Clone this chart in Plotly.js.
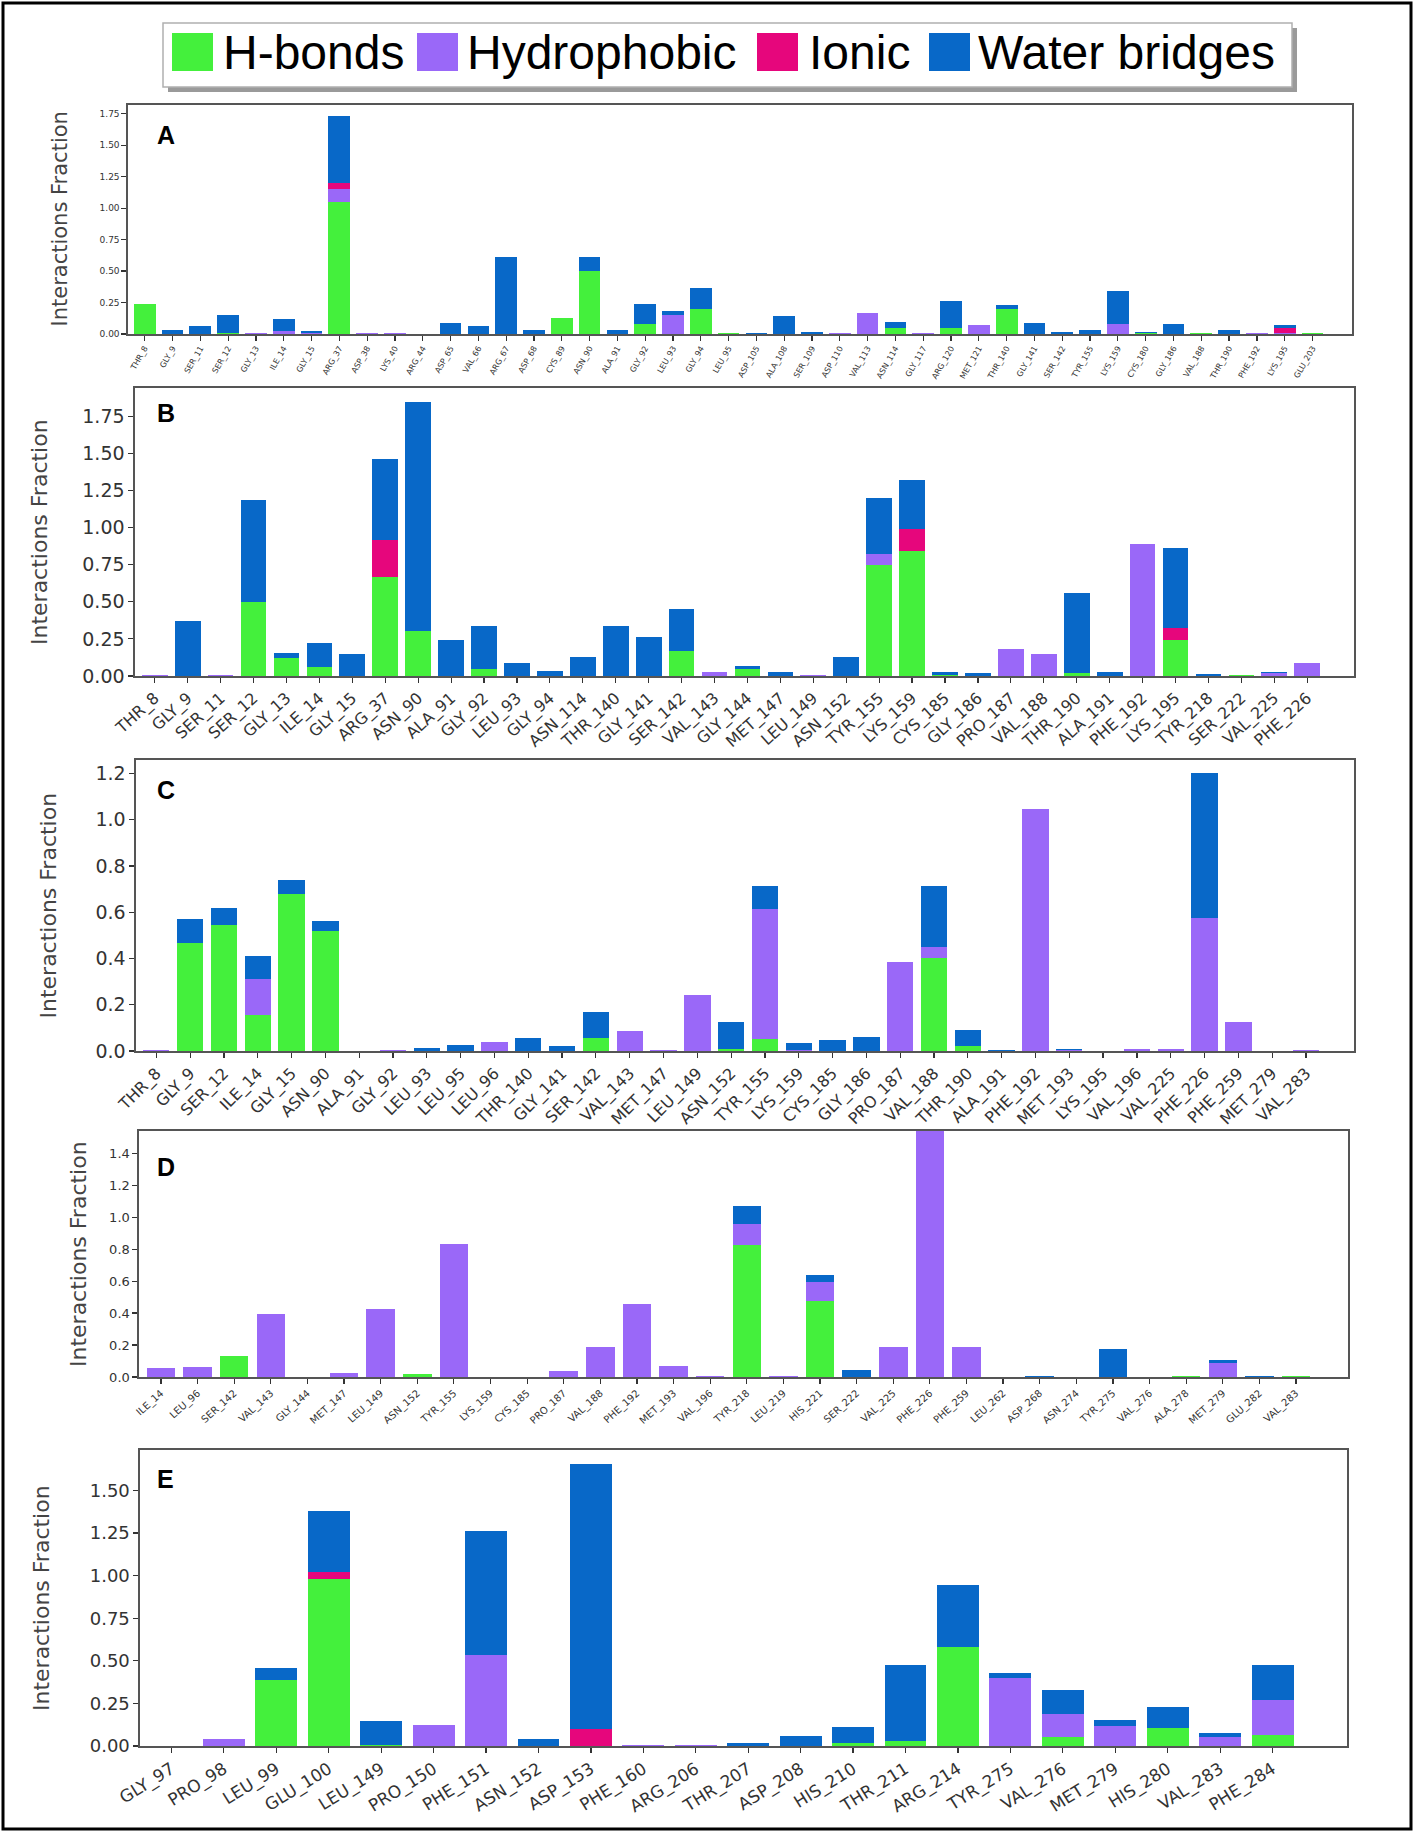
<!DOCTYPE html>
<html><head><meta charset="utf-8">
<script src="https://cdn.plot.ly/plotly-3.0.1.min.js"></script>
<style>body{margin:0;background:#fff}#chart{width:1417px;height:1831px}</style>
</head><body><div id="chart"></div>
<script>
// ---------------- DATA ----------------
const seriesNames = ['H-bonds', 'Hydrophobic', 'Ionic', 'Water bridges'];
const seriesColors = ['#44f03c', '#9a68f8', '#e6067c', '#0868c8'];
const panelLetters = ['A', 'B', 'C', 'D', 'E'];
const yTitle = 'Interactions Fraction';

const labelsA = ['THR_8','GLY_9','SER_11','SER_12','GLY_13','ILE_14','GLY_15','ARG_37','ASP_38','LYS_40','ARG_44','ASP_65','VAL_66','ARG_67','ASP_68','CYS_89','ASN_90','ALA_91','GLY_92','LEU_93','GLY_94','LEU_95','ASP_105','ALA_108','SER_109','ASP_110','VAL_113','ASN_114','GLY_117','ARG_120','MET_121','THR_140','GLY_141','SER_142','TYR_155','LYS_159','CYS_180','GLY_186','VAL_188','THR_190','PHE_192','LYS_195','GLU_203'];
const hbondA = [0.24,0,0,0.01,0,0,0,1.05,0,0,0,0,0,0,0,0.13,0.50,0,0.08,0,0.20,0.01,0,0,0,0,0,0.05,0,0.05,0,0.20,0,0,0,0,0.01,0,0.005,0,0,0,0.005];
const hydroA = [0,0,0,0,0.005,0.02,0.01,0.10,0.01,0.005,0,0,0,0,0,0,0,0,0,0.15,0,0,0,0,0,0.01,0.17,0,0.01,0,0.075,0,0,0,0,0.08,0,0,0,0,0.01,0.01,0];
const ionicA = [0,0,0,0,0,0,0,0.05,0,0,0,0,0,0,0,0,0,0,0,0,0,0,0,0,0,0,0,0,0,0,0,0,0,0,0,0,0,0,0,0,0,0.04,0];
const waterA = [0,0.03,0.065,0.145,0.005,0.10,0.01,0.53,0,0,0,0.09,0.065,0.61,0.035,0,0.11,0.035,0.16,0.035,0.165,0,0.01,0.14,0.015,0,0,0.045,0,0.215,0,0.03,0.085,0.015,0.035,0.26,0.005,0.08,0,0.03,0,0.025,0];

const labelsB = ['THR_8','GLY_9','SER_11','SER_12','GLY_13','ILE_14','GLY_15','ARG_37','ASN_90','ALA_91','GLY_92','LEU_93','GLY_94','ASN_114','THR_140','GLY_141','SER_142','VAL_143','GLY_144','MET_147','LEU_149','ASN_152','TYR_155','LYS_159','CYS_185','GLY_186','PRO_187','VAL_188','THR_190','ALA_191','PHE_192','LYS_195','TYR_218','SER_222','VAL_225','PHE_226'];
const hbondB = [0,0,0,0.50,0.12,0.06,0,0.665,0.30,0,0.05,0,0,0,0,0,0.17,0,0.045,0,0,0,0.75,0.84,0.01,0,0,0,0.02,0,0,0.24,0,0.005,0,0];
const hydroB = [0.005,0,0.005,0,0,0,0,0,0,0,0,0,0,0,0,0,0,0.025,0,0,0.005,0,0.07,0,0,0,0.18,0.15,0,0,0.89,0,0,0,0.02,0.09];
const ionicB = [0,0,0,0,0,0,0,0.25,0,0,0,0,0,0,0,0,0,0,0,0,0,0,0,0.15,0,0,0,0,0,0,0,0.08,0,0,0,0];
const waterB = [0,0.37,0,0.685,0.035,0.165,0.145,0.55,1.545,0.24,0.29,0.09,0.035,0.125,0.34,0.26,0.28,0,0.025,0.03,0,0.13,0.38,0.33,0.015,0.02,0,0,0.54,0.025,0,0.54,0.015,0,0.005,0];

const labelsC = ['THR_8','GLY_9','SER_12','ILE_14','GLY_15','ASN_90','ALA_91','GLY_92','LEU_93','LEU_95','LEU_96','THR_140','GLY_141','SER_142','VAL_143','MET_147','LEU_149','ASN_152','TYR_155','LYS_159','CYS_185','GLY_186','PRO_187','VAL_188','THR_190','ALA_191','PHE_192','MET_193','LYS_195','VAL_196','VAL_225','PHE_226','PHE_259','MET_279','VAL_283'];
const hbondC = [0,0.465,0.545,0.155,0.68,0.52,0,0,0,0,0,0,0,0.055,0,0,0,0.01,0.05,0,0,0,0,0.40,0.02,0,0,0,0,0,0,0,0,0,0];
const hydroC = [0.005,0,0,0.155,0,0,0,0.005,0,0,0.038,0,0,0,0.088,0.005,0.24,0,0.565,0.005,0,0,0.385,0.05,0,0,1.045,0.005,0,0.01,0.01,0.575,0.125,0,0.005];
const ionicC = [0,0,0,0,0,0,0,0,0,0,0,0,0,0,0,0,0,0,0,0,0,0,0,0,0,0,0,0,0,0,0,0,0,0,0];
const waterC = [0,0.105,0.075,0.10,0.06,0.04,0,0,0.015,0.027,0,0.058,0.02,0.115,0,0,0,0.115,0.10,0.03,0.046,0.06,0,0.265,0.07,0.005,0,0.005,0,0,0,0.625,0,0,0];

const labelsD = ['ILE_14','LEU_96','SER_142','VAL_143','GLY_144','MET_147','LEU_149','ASN_152','TYR_155','LYS_159','CYS_185','PRO_187','VAL_188','PHE_192','MET_193','VAL_196','TYR_218','LEU_219','HIS_221','SER_222','VAL_225','PHE_226','PHE_259','LEU_262','ASP_268','ASN_274','TYR_275','VAL_276','ALA_278','MET_279','GLU_282','VAL_283'];
const hbondD = [0,0,0.13,0,0,0,0,0.02,0,0,0,0,0,0,0,0,0.825,0,0.475,0,0,0,0,0,0,0,0,0,0.005,0,0,0.005];
const hydroD = [0.056,0.06,0,0.397,0,0.027,0.425,0,0.83,0,0,0.035,0.185,0.46,0.07,0.005,0.135,0.005,0.12,0,0.188,1.62,0.19,0,0,0,0,0,0,0.09,0,0];
const ionicD = [0,0,0,0,0,0,0,0,0,0,0,0,0,0,0,0,0,0,0,0,0,0,0,0,0,0,0,0,0,0,0,0];
const waterD = [0,0,0,0,0,0,0,0,0,0,0,0,0,0,0,0,0.11,0,0.045,0.044,0,0,0,0,0.008,0,0.178,0,0,0.015,0.005,0];

const labelsE = ['GLY_97','PRO_98','LEU_99','GLU_100','LEU_149','PRO_150','PHE_151','ASN_152','ASP_153','PHE_160','ARG_206','THR_207','ASP_208','HIS_210','THR_211','ARG_214','TYR_275','VAL_276','MET_279','HIS_280','VAL_283','PHE_284'];
const hbondE = [0,0,0.39,0.98,0.005,0,0,0,0,0,0,0,0,0.02,0.03,0.582,0,0.055,0,0.108,0,0.063];
const hydroE = [0,0.043,0,0,0,0.122,0.533,0,0,0.005,0.005,0,0,0,0,0,0.40,0.132,0.118,0,0.05,0.209];
const ionicE = [0,0,0,0.04,0,0,0,0,0.10,0,0,0,0,0,0,0,0,0,0,0,0,0];
const waterE = [0,0,0.065,0.36,0.143,0,0.73,0.04,1.555,0,0,0.02,0.059,0.094,0.444,0.36,0.03,0.143,0.034,0.119,0.029,0.202];

// ---------------- LAYOUT CONFIG ----------------
const W = 1417, H = 1831;
const X = px => px / W;
const Y = py => 1 - py / H;

const panels = [
  {labels: labelsA, vals: [hbondA, hydroA, ionicA, waterA], box: [128, 105, 1352, 334], ymax: 1.82, dtick: 0.25, fmt: '.2f',
   xfont: 8, xangle: -60, yfont: 9, titleX: 59, titleSize: 21, letterY: 119, bw: 0.78},
  {labels: labelsB, vals: [hbondB, hydroB, ionicB, waterB], box: [135, 388, 1354, 676], ymax: 1.94, dtick: 0.25, fmt: '.2f',
   xfont: 16, xangle: -42, yfont: 19, titleX: 39, titleSize: 22, letterY: 397, bw: 0.78},
  {labels: labelsC, vals: [hbondC, hydroC, ionicC, waterC], box: [136, 760, 1354, 1051], ymax: 1.258, dtick: 0.2, fmt: '.1f',
   xfont: 16, xangle: -45, yfont: 19, titleX: 48, titleSize: 22, letterY: 774, bw: 0.78},
  {labels: labelsD, vals: [hbondD, hydroD, ionicD, waterD], box: [139, 1131, 1348, 1377], ymax: 1.54, dtick: 0.2, fmt: '.1f',
   xfont: 10, xangle: -42, yfont: 13, titleX: 78, titleSize: 22, letterY: 1151, bw: 0.78},
  {labels: labelsE, vals: [hbondE, hydroE, ionicE, waterE], box: [140, 1450, 1347, 1746], ymax: 1.737, dtick: 0.25, fmt: '.2f',
   xfont: 17, xangle: -32, yfont: 18, titleX: 41, titleSize: 22, letterY: 1463, bw: 0.8}
];

const traces = [];
const layout = {
  width: W, height: H,
  margin: {l: 0, r: 0, t: 0, b: 0},
  paper_bgcolor: '#ffffff', plot_bgcolor: '#ffffff',
  barmode: 'stack', showlegend: false,
  font: {family: 'DejaVu Sans', color: '#333'},
  shapes: [], annotations: []
};

panels.forEach((p, i) => {
  const n = i === 0 ? '' : String(i + 1);
  p.vals.forEach((v, s) => {
    traces.push({
      type: 'bar', x: p.labels, y: v, name: seriesNames[s],
      xaxis: 'x' + n, yaxis: 'y' + n, width: p.bw,
      marker: {color: seriesColors[s], line: {width: 0}},
      showlegend: false, hoverinfo: 'x+y+name'
    });
  });
  const [l, t, r, b] = p.box;
  layout['xaxis' + n] = {
    domain: [X(l), X(r)], anchor: 'y' + n, type: 'category',
    range: [-0.6, p.labels.length + 0.42], fixedrange: true,
    showline: true, mirror: true, linecolor: '#555', linewidth: 1.6,
    ticks: 'outside', ticklen: 5, tickwidth: 1.2, tickcolor: '#333',
    tickangle: p.xangle, tickfont: {size: p.xfont, family: 'DejaVu Sans', color: '#333'},
    showgrid: false, zeroline: false, automargin: false
  };
  layout['yaxis' + n] = {
    domain: [Y(b), Y(t)], anchor: 'x' + n,
    range: [0, p.ymax], fixedrange: true,
    tick0: 0, dtick: p.dtick, tickformat: p.fmt,
    showline: true, mirror: true, linecolor: '#555', linewidth: 1.6,
    ticks: 'outside', ticklen: 5, tickwidth: 1.2, tickcolor: '#333',
    tickfont: {size: p.yfont, family: 'DejaVu Sans', color: '#333'},
    showgrid: false, zeroline: false, automargin: false
  };
  layout.annotations.push({
    xref: 'paper', yref: 'paper', x: X(p.titleX), y: Y((t + b) / 2),
    text: yTitle, textangle: -90, showarrow: false,
    xanchor: 'center', yanchor: 'middle',
    font: {size: p.titleSize, family: 'DejaVu Sans', color: '#444'}
  });
  layout.annotations.push({
    xref: 'paper', yref: 'paper', x: X(155), y: Y(p.letterY),
    text: '<b>' + panelLetters[i] + '</b>', showarrow: false,
    xanchor: 'left', yanchor: 'top',
    font: {size: 25, family: 'Liberation Sans', color: '#000'}
  });
});

// outer frame
layout.shapes.push({type: 'rect', xref: 'paper', yref: 'paper', x0: X(3), x1: X(1411), y0: Y(1829), y1: Y(3),
  line: {color: '#000', width: 3}, fillcolor: 'rgba(0,0,0,0)'});

// custom legend
const legBox = [163, 23, 1292, 87];
layout.shapes.push({type: 'rect', xref: 'paper', yref: 'paper', x0: X(legBox[0] + 5), x1: X(legBox[2] + 5), y0: Y(legBox[3] + 5), y1: Y(legBox[1] + 5),
  line: {width: 0}, fillcolor: '#9a9a9a'});
layout.shapes.push({type: 'rect', xref: 'paper', yref: 'paper', x0: X(legBox[0]), x1: X(legBox[2]), y0: Y(legBox[3]), y1: Y(legBox[1]),
  line: {color: '#b0b0b0', width: 1.5}, fillcolor: '#ffffff'});
const legSwatchX = [172, 417, 757, 929];
const legTextX = [221, 465, 807, 976];
seriesNames.forEach((nm, s) => {
  layout.shapes.push({type: 'rect', xref: 'paper', yref: 'paper',
    x0: X(legSwatchX[s]), x1: X(legSwatchX[s] + 41), y0: Y(71), y1: Y(33),
    line: {width: 0}, fillcolor: seriesColors[s]});
  layout.annotations.push({xref: 'paper', yref: 'paper', x: X(legTextX[s]), y: Y(52),
    text: nm, showarrow: false, xanchor: 'left', yanchor: 'middle',
    font: {size: 48, family: 'Liberation Sans', color: '#000'}});
});

Plotly.newPlot('chart', traces, layout, {displayModeBar: false, staticPlot: true});
</script>
</body></html>
